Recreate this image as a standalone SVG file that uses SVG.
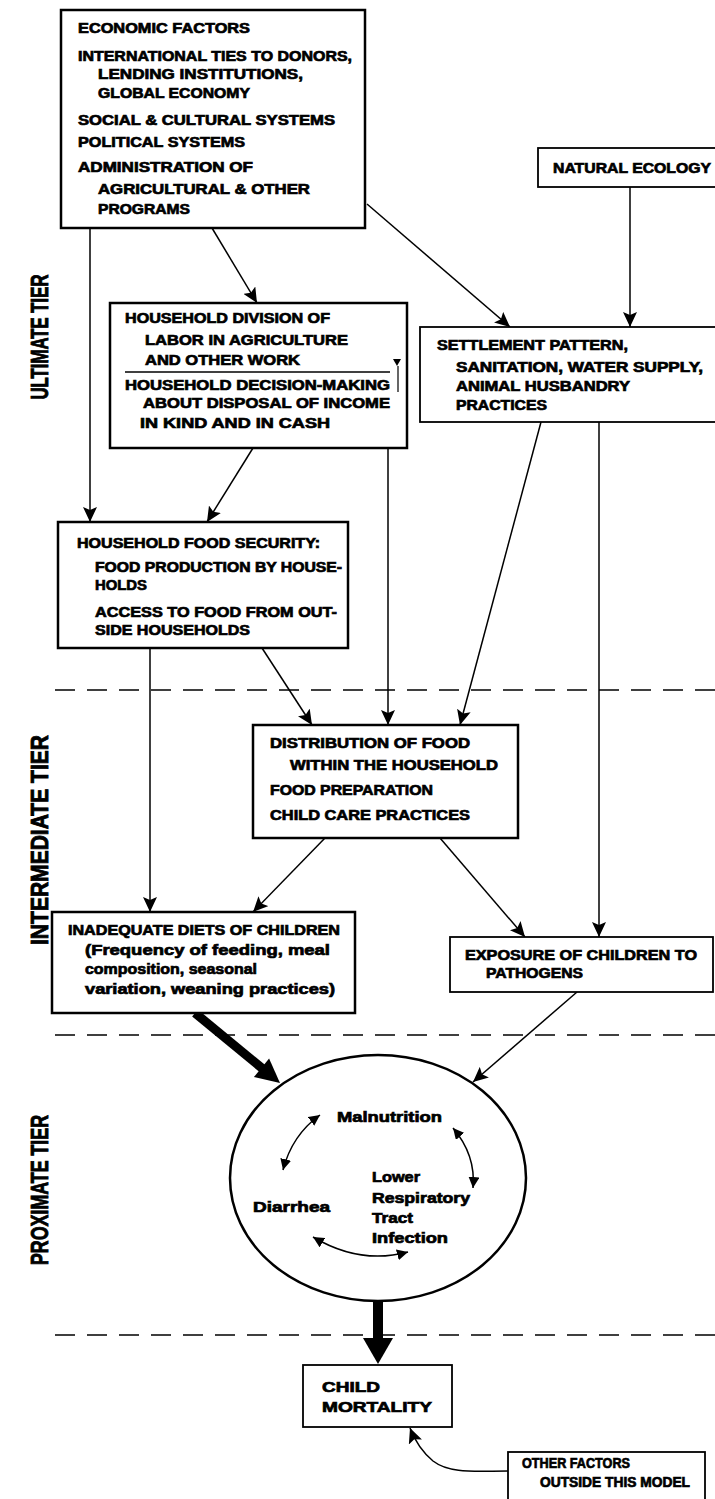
<svg xmlns="http://www.w3.org/2000/svg" width="715" height="1499" viewBox="0 0 715 1499">
<style>
  .box { fill: #fff; stroke: #000; stroke-width: 2.5; }
  .thin { fill: #fff; stroke: #000; stroke-width: 1.8; }
  .t { font-family: "Liberation Sans", Arial, sans-serif; font-weight: bold; font-size: 14.5px; fill: #000; stroke: #000; stroke-width: 0.7; }
  .tier { font-family: "Liberation Sans", Arial, sans-serif; font-weight: bold; font-size: 24px; fill: #000; stroke: #000; stroke-width: 0.9; }
  .c { fill: none; stroke: #000; stroke-width: 1.5; }
  .dash { fill: none; stroke: #000; stroke-width: 1.5; stroke-dasharray: 20 12; }
</style>
<defs>
  <marker id="ah" markerUnits="userSpaceOnUse" markerWidth="16" markerHeight="14" refX="15" refY="7" orient="auto">
    <path d="M0,0 L15,7 L0,14 L3,7 z" fill="#000"/>
  </marker>
  <marker id="sh" markerUnits="userSpaceOnUse" markerWidth="12" markerHeight="11" refX="11" refY="5.5" orient="auto-start-reverse">
    <path d="M0,0 L11,5.5 L0,11 z" fill="#000"/>
  </marker>
</defs>

<g id="tiers">
  <line class="dash" x1="55" y1="690" x2="715" y2="690"/>
  <line class="dash" x1="55" y1="1035" x2="715" y2="1035"/>
  <line class="dash" x1="55" y1="1335" x2="715" y2="1335"/>
  <text class="tier" transform="translate(48,337) rotate(-90)" text-anchor="middle" textLength="125" lengthAdjust="spacingAndGlyphs">ULTIMATE TIER</text>
  <text class="tier" transform="translate(48,840) rotate(-90)" text-anchor="middle" textLength="210" lengthAdjust="spacingAndGlyphs">INTERMEDIATE TIER</text>
  <text class="tier" transform="translate(48,1190) rotate(-90)" text-anchor="middle" textLength="150" lengthAdjust="spacingAndGlyphs">PROXIMATE TIER</text>
</g>

<g id="connectors">
  <line class="c" x1="90" y1="228" x2="90" y2="522" marker-end="url(#ah)"/>
  <line class="c" x1="212" y1="228" x2="257" y2="303" marker-end="url(#ah)"/>
  <line class="c" x1="367" y1="204" x2="510" y2="327" marker-end="url(#ah)"/>
  <line class="c" x1="630" y1="187" x2="630" y2="327" marker-end="url(#ah)"/>
  <line class="c" x1="253" y1="448" x2="207" y2="522" marker-end="url(#ah)"/>
  <line class="c" x1="388" y1="448" x2="388" y2="725" marker-end="url(#ah)"/>
  <line class="c" x1="262" y1="648" x2="312" y2="725" marker-end="url(#ah)"/>
  <line class="c" x1="541" y1="422" x2="460" y2="725" marker-end="url(#ah)"/>
  <line class="c" x1="599" y1="422" x2="599" y2="937" marker-end="url(#ah)"/>
  <line class="c" x1="150" y1="648" x2="150" y2="912" marker-end="url(#ah)"/>
  <line class="c" x1="325" y1="838" x2="253" y2="912" marker-end="url(#ah)"/>
  <line class="c" x1="440" y1="838" x2="525" y2="937" marker-end="url(#ah)"/>
  <line class="c" x1="577" y1="992" x2="473" y2="1082" marker-end="url(#ah)"/>
  <line x1="195" y1="1013" x2="263" y2="1069" stroke="#000" stroke-width="9"/>
  <polygon points="280,1083 253.9,1077 269.1,1058.4" fill="#000"/>
  <line x1="378" y1="1300" x2="378" y2="1340" stroke="#000" stroke-width="10"/>
  <polygon points="363,1338 393,1338 378,1364" fill="#000"/>
  <path class="c" d="M508,1471 C475,1471 450,1474 433,1461 C421,1451 415,1441 410,1428" marker-end="url(#ah)"/>
</g>

<g id="n-macro">
  <rect class="box" x="61" y="10" width="304" height="218" stroke-width="3"/>
  <text class="t" x="78" y="33" textLength="172" lengthAdjust="spacingAndGlyphs">ECONOMIC FACTORS</text>
  <text class="t" x="78" y="61" textLength="274" lengthAdjust="spacingAndGlyphs">INTERNATIONAL TIES TO DONORS,</text>
  <text class="t" x="98" y="79" textLength="205" lengthAdjust="spacingAndGlyphs">LENDING INSTITUTIONS,</text>
  <text class="t" x="98" y="98" textLength="152" lengthAdjust="spacingAndGlyphs">GLOBAL ECONOMY</text>
  <text class="t" x="78" y="125" textLength="257" lengthAdjust="spacingAndGlyphs">SOCIAL &amp; CULTURAL SYSTEMS</text>
  <text class="t" x="78" y="147" font-size="12" textLength="167" lengthAdjust="spacingAndGlyphs">POLITICAL SYSTEMS</text>
  <text class="t" x="78" y="172" textLength="175" lengthAdjust="spacingAndGlyphs">ADMINISTRATION OF</text>
  <text class="t" x="98" y="194" textLength="212" lengthAdjust="spacingAndGlyphs">AGRICULTURAL &amp; OTHER</text>
  <text class="t" x="98" y="214" textLength="92" lengthAdjust="spacingAndGlyphs">PROGRAMS</text>
</g>

<g id="n-ecology">
  <rect class="thin" x="538" y="148" width="190" height="39"/>
  <text class="t" x="553" y="173" textLength="158" lengthAdjust="spacingAndGlyphs">NATURAL ECOLOGY</text>
</g>

<g id="n-household">
  <rect class="box" x="110" y="303" width="297" height="145" stroke-width="3"/>
  <text class="t" x="125" y="323" textLength="205" lengthAdjust="spacingAndGlyphs">HOUSEHOLD DIVISION OF</text>
  <text class="t" x="145" y="345" textLength="203" lengthAdjust="spacingAndGlyphs">LABOR IN AGRICULTURE</text>
  <text class="t" x="145" y="365" textLength="155" lengthAdjust="spacingAndGlyphs">AND OTHER WORK</text>
  <line x1="125" y1="372" x2="390" y2="372" stroke="#000" stroke-width="1.5"/>
  <polygon points="393,359 401,359 397,366" fill="#000"/>
  <line x1="398" y1="366" x2="398" y2="392" stroke="#000" stroke-width="1.2"/>
  <text class="t" x="125" y="390" textLength="265" lengthAdjust="spacingAndGlyphs">HOUSEHOLD DECISION-MAKING</text>
  <text class="t" x="143" y="408" textLength="247" lengthAdjust="spacingAndGlyphs">ABOUT DISPOSAL OF INCOME</text>
  <text class="t" x="140" y="428" textLength="190" lengthAdjust="spacingAndGlyphs">IN KIND AND IN CASH</text>
</g>

<g id="n-settlement">
  <rect class="thin" x="420" y="327" width="310" height="95"/>
  <text class="t" x="437" y="350" textLength="191" lengthAdjust="spacingAndGlyphs">SETTLEMENT PATTERN,</text>
  <text class="t" x="456" y="372" textLength="247" lengthAdjust="spacingAndGlyphs">SANITATION, WATER SUPPLY,</text>
  <text class="t" x="456" y="391" textLength="174" lengthAdjust="spacingAndGlyphs">ANIMAL HUSBANDRY</text>
  <text class="t" x="456" y="410" textLength="91" lengthAdjust="spacingAndGlyphs">PRACTICES</text>
</g>

<g id="n-foodsecurity">
  <rect class="box" x="58" y="522" width="290" height="126" stroke-width="3"/>
  <text class="t" x="77" y="548" textLength="243" lengthAdjust="spacingAndGlyphs">HOUSEHOLD FOOD SECURITY:</text>
  <text class="t" x="95" y="572" textLength="247" lengthAdjust="spacingAndGlyphs">FOOD PRODUCTION BY HOUSE-</text>
  <text class="t" x="95" y="590" textLength="52" lengthAdjust="spacingAndGlyphs">HOLDS</text>
  <text class="t" x="95" y="617" textLength="242" lengthAdjust="spacingAndGlyphs">ACCESS TO FOOD FROM OUT-</text>
  <text class="t" x="95" y="635" textLength="155" lengthAdjust="spacingAndGlyphs">SIDE HOUSEHOLDS</text>
</g>

<g id="n-distribution">
  <rect class="box" x="253" y="725" width="265" height="113"/>
  <text class="t" x="270" y="748" textLength="200" lengthAdjust="spacingAndGlyphs">DISTRIBUTION OF FOOD</text>
  <text class="t" x="290" y="770" textLength="208" lengthAdjust="spacingAndGlyphs">WITHIN THE HOUSEHOLD</text>
  <text class="t" x="270" y="795" textLength="163" lengthAdjust="spacingAndGlyphs">FOOD PREPARATION</text>
  <text class="t" x="270" y="820" textLength="200" lengthAdjust="spacingAndGlyphs">CHILD CARE PRACTICES</text>
</g>

<g id="n-diets">
  <rect class="box" x="52" y="912" width="303" height="101" stroke-width="3"/>
  <text class="t" x="68" y="935" textLength="272" lengthAdjust="spacingAndGlyphs">INADEQUATE DIETS OF CHILDREN</text>
  <text class="t" x="85" y="955" textLength="245" lengthAdjust="spacingAndGlyphs">(Frequency of feeding, meal</text>
  <text class="t" x="85" y="974" textLength="172" lengthAdjust="spacingAndGlyphs">composition, seasonal</text>
  <text class="t" x="85" y="994" textLength="250" lengthAdjust="spacingAndGlyphs">variation, weaning practices)</text>
</g>

<g id="n-exposure">
  <rect class="thin" x="450" y="937" width="263" height="55" stroke-width="2"/>
  <text class="t" x="465" y="960" textLength="232" lengthAdjust="spacingAndGlyphs">EXPOSURE OF CHILDREN TO</text>
  <text class="t" x="486" y="978" textLength="97" lengthAdjust="spacingAndGlyphs">PATHOGENS</text>
</g>

<g id="n-proximate">
  <ellipse cx="378" cy="1178" rx="148" ry="123" fill="#fff" stroke="#000" stroke-width="2.5"/>
  <text class="t" x="337" y="1122" textLength="105" lengthAdjust="spacingAndGlyphs">Malnutrition</text>
  <text class="t" x="253" y="1212" textLength="77" lengthAdjust="spacingAndGlyphs">Diarrhea</text>
  <text class="t" x="372" y="1182" textLength="48" lengthAdjust="spacingAndGlyphs">Lower</text>
  <text class="t" x="372" y="1203" textLength="98" lengthAdjust="spacingAndGlyphs">Respiratory</text>
  <text class="t" x="372" y="1223" textLength="41" lengthAdjust="spacingAndGlyphs">Tract</text>
  <text class="t" x="372" y="1243" textLength="76" lengthAdjust="spacingAndGlyphs">Infection</text>
  <path class="c" d="M283,1170 Q292,1135 320,1115" marker-start="url(#sh)" marker-end="url(#sh)"/>
  <path class="c" d="M453,1128 Q476,1155 473,1188" marker-start="url(#sh)" marker-end="url(#sh)"/>
  <path class="c" d="M313,1237 Q360,1265 408,1252" marker-start="url(#sh)" marker-end="url(#sh)"/>
</g>

<g id="n-mortality">
  <rect class="thin" x="303" y="1365" width="149" height="62" stroke-width="2"/>
  <text class="t" x="322" y="1392" font-size="16" textLength="58" lengthAdjust="spacingAndGlyphs">CHILD</text>
  <text class="t" x="322" y="1412" font-size="16" textLength="110" lengthAdjust="spacingAndGlyphs">MORTALITY</text>
</g>

<g id="n-other">
  <rect class="thin" x="508" y="1452" width="197" height="52" stroke-width="1.5"/>
  <text class="t" x="522" y="1468" font-size="11.5" textLength="108" lengthAdjust="spacingAndGlyphs">OTHER FACTORS</text>
  <text class="t" x="540" y="1487" font-size="11.5" textLength="150" lengthAdjust="spacingAndGlyphs">OUTSIDE THIS MODEL</text>
</g>
</svg>
